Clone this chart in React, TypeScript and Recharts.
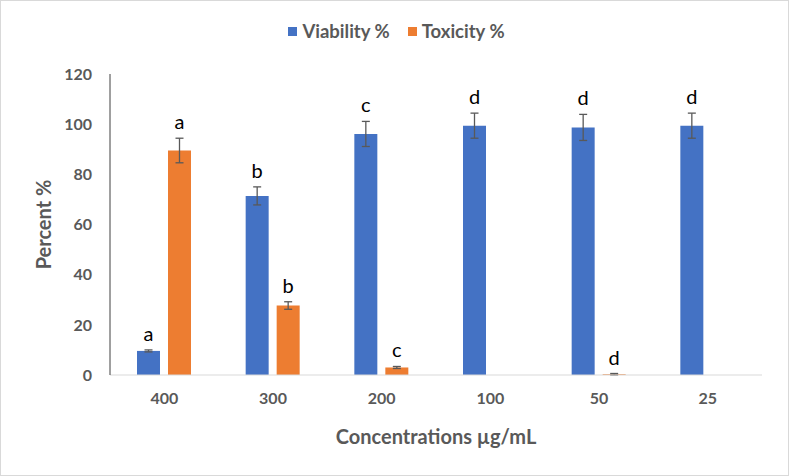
import React from "react";
import { Bar, BarChart, ErrorBar, LabelList, Legend, XAxis, YAxis } from "recharts";

const concentrations = ["400", "300", "200", "100", "50", "25"];
const viability = [9.6, 71.4, 96.1, 99.4, 98.7, 99.4];
const viabilityErr = [0.4, 3.6, 5, 5, 5.2, 5];
const viabilityLetters = ["a", "b", "c", "d", "d", "d"];
const toxicity: (number | null)[] = [89.5, 27.7, 3.0, null, 0.3, null];
const toxicityErr: (number | null)[] = [4.9, 1.5, 0.4, null, 0.3, null];
const toxicityLetters = ["a", "b", "c", "", "d", ""];
const yTicks = [0, 20, 40, 60, 80, 100, 120];

const BLUE = "#4472C4";
const ORANGE = "#ED7D31";
const GREY_TEXT = "#595959";
const FONT = "Lato, 'Open Sans', sans-serif";

const W = 789;
const H = 476;
const PLOT_TOP = 74;
const PLOT_BOTTOM = 375;
const Y_MAX = 120;
const PX_PER_UNIT = (PLOT_BOTTOM - PLOT_TOP) / Y_MAX;

const rows = concentrations.map((c, i) => ({
  conc: c,
  viability: viability[i],
  vErr: viabilityErr[i],
  vLetter: viabilityLetters[i],
  toxicity: toxicity[i],
  tErr: toxicityErr[i],
  tLetter: toxicityLetters[i],
}));

// significance letter sits above the error bar cap
function letterLabel(errs: (number | null)[]) {
  return (props: any) => {
    const { x, y, width, value, index } = props;
    if (!value) return null;
    const err = errs[index] ?? 0;
    const top = Number(y) - err * PX_PER_UNIT;
    return (
      <text
        x={Number(x) + Number(width) / 2}
        y={top - 9}
        textAnchor="middle"
        fontSize={20}
        fill="#000"
        fontFamily={FONT}
      >
        {value}
      </text>
    );
  };
}

function YTitle(props: any) {
  const { viewBox } = props;
  const cy = viewBox.y + viewBox.height / 2;
  return (
    <text
      x={43}
      y={cy}
      transform={`rotate(-90, 43, ${cy})`}
      textAnchor="middle"
      dominantBaseline="central"
      fill={GREY_TEXT}
      fontSize={20}
      fontWeight={700}
      fontFamily={FONT}
    >
      Percent %
    </text>
  );
}

function LegendBox(props: any) {
  const items = props.payload ?? [];
  return (
    <div style={{ display: "flex", justifyContent: "center", gap: 18, fontFamily: FONT }}>
      {items.map((it: any) => (
        <div key={it.value} style={{ display: "flex", alignItems: "center", gap: 5 }}>
          <span style={{ width: 9, height: 9, background: it.color, display: "inline-block" }} />
          <span style={{ color: GREY_TEXT, fontWeight: 700, fontSize: 18.5 }}>{it.value}</span>
        </div>
      ))}
    </div>
  );
}

export default function App() {
  return (
    <div style={{ position: "absolute", left: 0, top: 0, width: W, height: H, background: "#fff", fontFamily: FONT }}>
      <BarChart
        width={W}
        height={H}
        data={rows}
        margin={{ top: PLOT_TOP, right: W - 762, bottom: 0, left: 0 }}
        barSize={23}
        barGap={8}
      >
        <XAxis
          dataKey="conc"
          height={H - PLOT_BOTTOM}
          axisLine={{ stroke: "#D9D9D9" }}
          tickLine={false}
          tickSize={0}
          tickMargin={18}
          tick={{ fill: GREY_TEXT, fontSize: 16, fontWeight: 700 }}
          label={{
            value: "Concentrations µg/mL",
            position: "insideBottom",
            offset: 32,
            fill: GREY_TEXT,
            fontSize: 20,
            fontWeight: 700,
          }}
        />
        <YAxis
          width={110}
          domain={[0, Y_MAX]}
          ticks={yTicks}
          axisLine={{ stroke: "#404040" }}
          tickLine={false}
          tickSize={0}
          tickMargin={18}
          tick={{ fill: GREY_TEXT, fontSize: 16, fontWeight: 700 }}
          label={<YTitle />}
        />
        <Legend
          verticalAlign="middle"
          layout="horizontal"
          align="center"
          itemSorter={null}
          wrapperStyle={{ top: 20, left: 2, width: W }}
          content={<LegendBox />}
        />
        <Bar dataKey="viability" name="Viability %" fill={BLUE} isAnimationActive={false}>
          <ErrorBar dataKey="vErr" width={4} stroke="#595959" strokeWidth={1.3} />
          <LabelList dataKey="vLetter" content={letterLabel(viabilityErr)} />
        </Bar>
        <Bar dataKey="toxicity" name="Toxicity %" fill={ORANGE} isAnimationActive={false}>
          <ErrorBar dataKey="tErr" width={4} stroke="#595959" strokeWidth={1.3} />
          <LabelList dataKey="tLetter" content={letterLabel(toxicityErr)} />
        </Bar>
      </BarChart>
      <div
        style={{
          position: "absolute",
          inset: 0,
          border: "1px solid #D9D9D9",
          pointerEvents: "none",
        }}
      />
    </div>
  );
}
